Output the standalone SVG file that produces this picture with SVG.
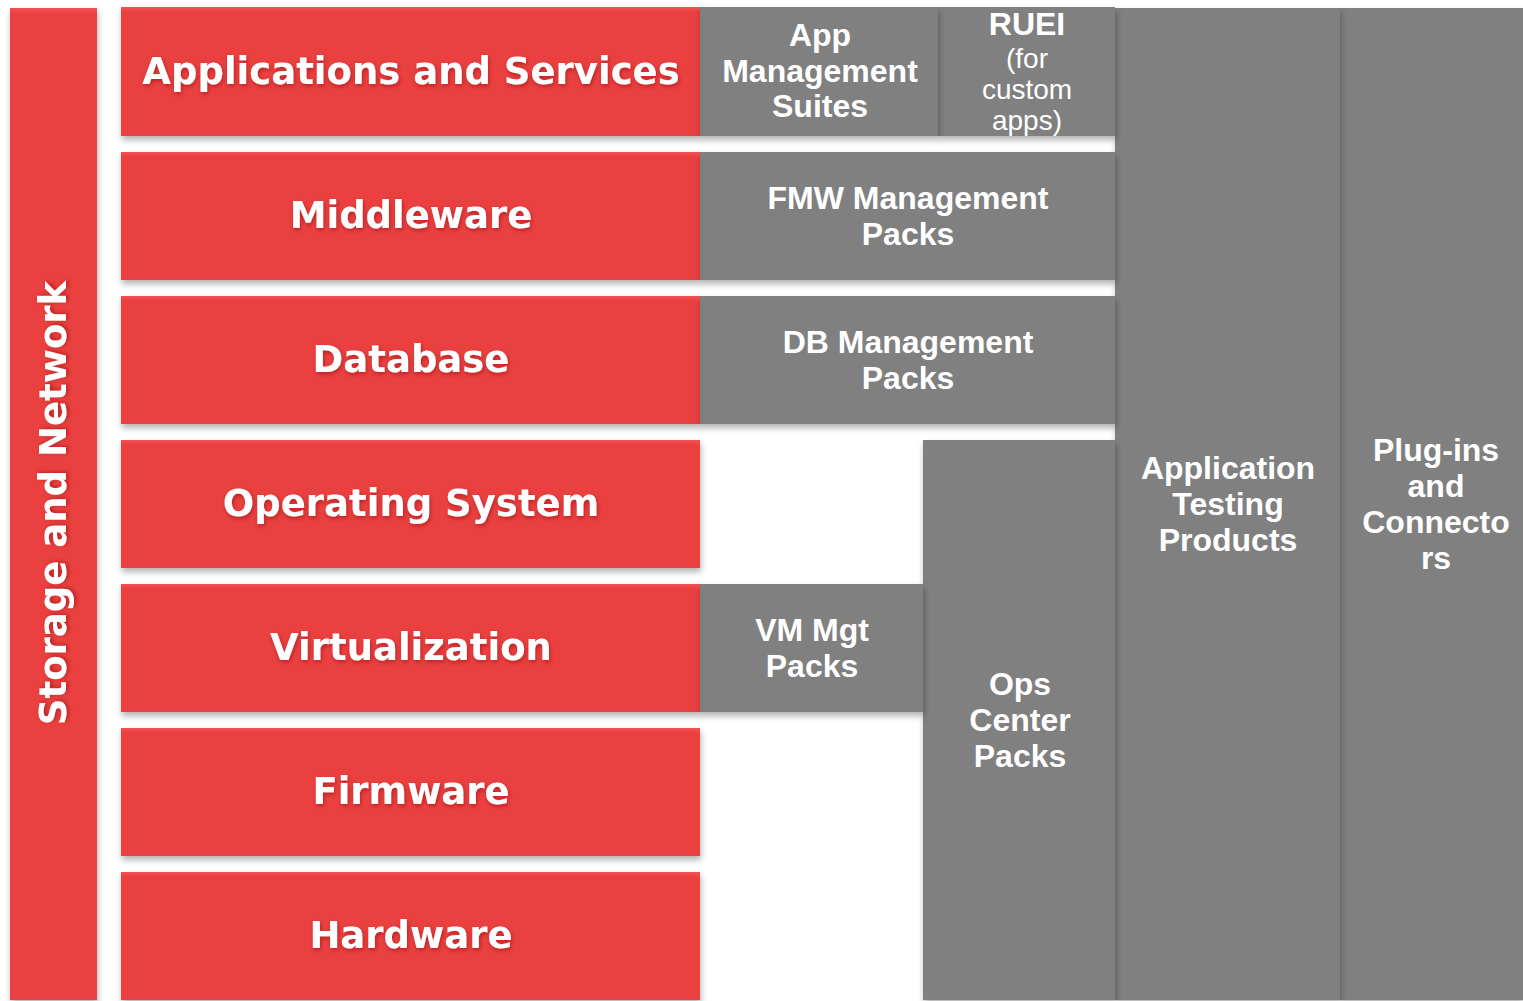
<svg xmlns="http://www.w3.org/2000/svg" width="1523" height="1001" viewBox="0 0 1523 1001">
<defs>
<filter id="sh" x="-5%" y="-5%" width="115%" height="120%"><feDropShadow dx="1" dy="4" stdDeviation="3" flood-color="#000" flood-opacity="0.3"/></filter>
<filter id="tsh" x="-5%" y="-20%" width="110%" height="150%"><feDropShadow dx="1" dy="2" stdDeviation="2" flood-color="#800" flood-opacity="0.5"/></filter>
<linearGradient id="rg" x1="0" y1="0" x2="0" y2="1"><stop offset="0" stop-color="#F85050"/><stop offset="0.04" stop-color="#EA4041"/><stop offset="1" stop-color="#EA4041"/></linearGradient>
<linearGradient id="rg2" x1="0" y1="0" x2="0" y2="1"><stop offset="0" stop-color="#F85050"/><stop offset="0.006" stop-color="#EA4041"/><stop offset="1" stop-color="#EA4041"/></linearGradient>
</defs>
<style>
.red{fill:url(#rg);filter:url(#sh)}
.gray{fill:#808080;filter:url(#sh)}
.rt{font-family:"DejaVu Sans",Verdana,sans-serif;font-weight:bold;font-size:37px;fill:#fff;text-anchor:middle;filter:url(#tsh)}
.gt{font-family:"Liberation Sans",Arial,sans-serif;font-weight:bold;font-size:32px;fill:#fff;text-anchor:middle}
.gr{font-family:"Liberation Sans",Arial,sans-serif;font-size:28px;fill:#fff;text-anchor:middle}
</style>
<rect width="1523" height="1001" fill="#fff"/>
<g id="storage"><rect x="10" y="8" width="87" height="992" fill="url(#rg2)" filter="url(#sh)"/><text class="rt" transform="translate(66 503) rotate(-90)">Storage and Network</text></g>
<g id="apps"><rect class="red" x="121" y="7" width="579" height="129"/><text class="rt" x="411" y="84">Applications and Services</text></g>
<g id="middleware"><rect class="red" x="121" y="152" width="579" height="128"/><text class="rt" x="411" y="228">Middleware</text></g>
<g id="database"><rect class="red" x="121" y="296" width="579" height="128"/><text class="rt" x="411" y="372">Database</text></g>
<g id="os"><rect class="red" x="121" y="440" width="579" height="128"/><text class="rt" x="411" y="516">Operating System</text></g>
<g id="virt"><rect class="red" x="121" y="584" width="579" height="128"/><text class="rt" x="411" y="660">Virtualization</text></g>
<g id="firmware"><rect class="red" x="121" y="728" width="579" height="128"/><text class="rt" x="411" y="804">Firmware</text></g>
<g id="hardware"><rect class="red" x="121" y="872" width="579" height="128"/><text class="rt" x="411" y="948">Hardware</text></g>
<g id="plugins"><rect class="gray" x="1340" y="8" width="183" height="992"/><text class="gt"><tspan x="1436" y="461">Plug-ins</tspan><tspan x="1436" y="497">and</tspan><tspan x="1436" y="533">Connecto</tspan><tspan x="1436" y="569">rs</tspan></text></g>
<g id="apptest"><rect class="gray" x="1115" y="8" width="225" height="992"/><text class="gt"><tspan x="1228" y="479">Application</tspan><tspan x="1228" y="515">Testing</tspan><tspan x="1228" y="551">Products</tspan></text></g>
<g id="ruei"><rect class="gray" x="938" y="7" width="177" height="129"/><text class="gt" x="1027" y="35">RUEI</text><text class="gr"><tspan x="1027" y="68">(for</tspan><tspan x="1027" y="99">custom</tspan><tspan x="1027" y="130">apps)</tspan></text></g>
<g id="appmgmt"><rect class="gray" x="700" y="7" width="238" height="129"/><text class="gt"><tspan x="820" y="46">App</tspan><tspan x="820" y="82">Management</tspan><tspan x="820" y="117">Suites</tspan></text></g>
<g id="fmw"><rect class="gray" x="700" y="152" width="415" height="128"/><text class="gt"><tspan x="908" y="209">FMW Management</tspan><tspan x="908" y="245">Packs</tspan></text></g>
<g id="dbmgmt"><rect class="gray" x="700" y="296" width="415" height="128"/><text class="gt"><tspan x="908" y="353">DB Management</tspan><tspan x="908" y="389">Packs</tspan></text></g>
<g id="opscenter"><rect class="gray" x="923" y="440" width="192" height="560"/><text class="gt"><tspan x="1020" y="695">Ops</tspan><tspan x="1020" y="731">Center</tspan><tspan x="1020" y="767">Packs</tspan></text></g>
<g id="vmmgt"><rect class="gray" x="700" y="584" width="223" height="128"/><text class="gt"><tspan x="812" y="641">VM Mgt</tspan><tspan x="812" y="677">Packs</tspan></text></g>
<g id="connectors"/>
</svg>
